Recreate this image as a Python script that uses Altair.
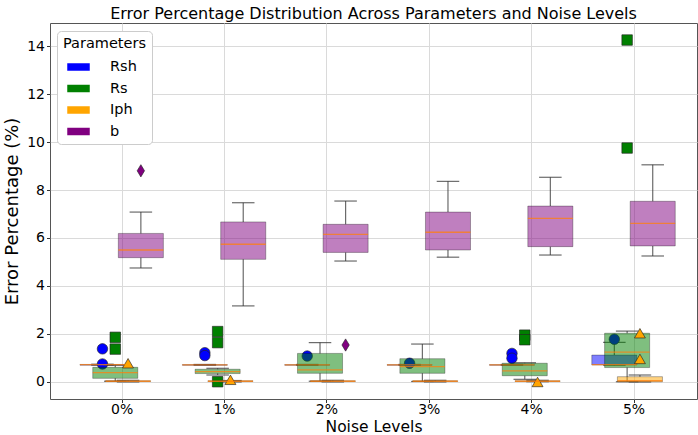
import json
import altair as alt
import pandas as pd

noise_levels = ["0%", "1%", "2%", "3%", "4%", "5%"]
params = ["Rsh", "Rs", "Iph", "b"]
param_colors = ["#0000ff", "#008000", "#ffa500", "#800080"]
param_shapes = ["circle", "square", "triangle-up", "M0,-1L0.6,0L0,1L-0.6,0Z"]
param_marker_sizes = [110, 110, 120, 150]

# box statistics per noise level: lower whisker, Q1, median, Q3, upper whisker (error %)
rsh_low = [0.70, 0.70, 0.70, 0.70, 0.70, 0.70]
rsh_q1 = [0.70, 0.70, 0.70, 0.70, 0.70, 0.71]
rsh_med = [0.72, 0.71, 0.71, 0.71, 0.71, 0.72]
rsh_q3 = [0.73, 0.72, 0.72, 0.72, 0.72, 1.12]
rsh_high = [0.74, 0.73, 0.73, 0.73, 0.73, 1.65]

rs_low = [0.03, 0.29, 0.03, 0.02, 0.11, 0.01]
rs_q1 = [0.15, 0.35, 0.36, 0.36, 0.26, 0.60]
rs_med = [0.39, 0.43, 0.50, 0.64, 0.46, 1.24]
rs_q3 = [0.61, 0.53, 1.19, 0.97, 0.78, 2.03]
rs_high = [0.70, 0.57, 1.64, 1.58, 0.80, 2.12]

iph_low = [0.00, 0.00, 0.00, 0.00, 0.01, 0.00]
iph_q1 = [0.02, 0.02, 0.02, 0.02, 0.02, 0.01]
iph_med = [0.03, 0.03, 0.03, 0.03, 0.03, 0.05]
iph_q3 = [0.05, 0.05, 0.05, 0.05, 0.05, 0.22]
iph_high = [0.07, 0.06, 0.07, 0.07, 0.07, 0.29]

b_low = [4.75, 3.17, 5.04, 5.20, 5.29, 5.25]
b_q1 = [5.18, 5.11, 5.40, 5.50, 5.64, 5.67]
b_med = [5.50, 5.74, 6.15, 6.24, 6.82, 6.61]
b_q3 = [6.19, 6.67, 6.57, 7.08, 7.33, 7.53]
b_high = [7.08, 7.47, 7.54, 8.36, 8.53, 9.05]

# outliers: noise level index and value
rsh_out_level = [0, 0, 1, 1, 2, 3, 4, 4, 5]
rsh_out_value = [1.38, 0.75, 1.22, 1.10, 1.08, 0.78, 1.19, 0.99, 1.78]
rs_out_level = [0, 0, 1, 1, 1, 4, 4, 5, 5]
rs_out_value = [1.86, 1.37, 2.10, 1.64, 0.01, 1.95, 1.76, 14.25, 9.75]
iph_out_level = [0, 1, 4, 5, 5]
iph_out_value = [0.78, 0.09, 0.00, 2.03, 0.96]
b_out_level = [0, 2]
b_out_value = [8.80, 1.54]

stats = {
    "Rsh": (rsh_low, rsh_q1, rsh_med, rsh_q3, rsh_high, rsh_out_level, rsh_out_value),
    "Rs": (rs_low, rs_q1, rs_med, rs_q3, rs_high, rs_out_level, rs_out_value),
    "Iph": (iph_low, iph_q1, iph_med, iph_q3, iph_high, iph_out_level, iph_out_value),
    "b": (b_low, b_q1, b_med, b_q3, b_high, b_out_level, b_out_value),
}

# grouped layout: each parameter is shifted around the noise-level position
group_offsets = [-0.1875, -0.0625, 0.0625, 0.1875]
box_width = 0.44
cap_width = box_width / 2

font = "DejaVu Sans"
x_scale = alt.Scale(domain=[-0.70, 5.62], nice=False, zero=False)
y_scale = alt.Scale(domain=[-0.71, 14.96], nice=False, zero=False)
x_axis = alt.Axis(
    title="Noise Levels",
    values=list(range(len(noise_levels))),
    labelExpr=json.dumps(noise_levels) + "[round(datum.value)]",
)
y_axis = alt.Axis(title="Error Percentage (%)", values=list(range(0, 15, 2)))
color_scale = alt.Scale(domain=params, range=param_colors)


def X(field):
    return alt.X(field, type="quantitative", scale=x_scale, axis=x_axis)


def Y(field):
    return alt.Y(field, type="quantitative", scale=y_scale, axis=y_axis)


box_layers = []
median_layers = []
for j, name in enumerate(params):
    low, q1, med, q3, high, out_lvl, out_val = stats[name]
    pos = [i + group_offsets[j] for i in range(len(noise_levels))]
    df = pd.DataFrame({
        "param": name,
        "pos": pos,
        "x_lo": [p - box_width / 2 for p in pos],
        "x_hi": [p + box_width / 2 for p in pos],
        "c_lo": [p - cap_width / 2 for p in pos],
        "c_hi": [p + cap_width / 2 for p in pos],
        "low": low, "q1": q1, "med": med, "q3": q3, "high": high,
    })
    base = alt.Chart(df)
    whisker_style = dict(color="#3a3a3a", opacity=0.75, strokeWidth=1.2)
    lower_whisker = base.mark_rule(**whisker_style).encode(x=X("pos"), y=Y("low"), y2="q1")
    upper_whisker = base.mark_rule(**whisker_style).encode(x=X("pos"), y=Y("q3"), y2="high")
    lower_cap = base.mark_rule(**whisker_style).encode(x=X("c_lo"), x2="c_hi", y=Y("low"))
    upper_cap = base.mark_rule(**whisker_style).encode(x=X("c_lo"), x2="c_hi", y=Y("high"))
    box = base.mark_rect(
        fillOpacity=0.5, stroke="#000000", strokeOpacity=0.3, strokeWidth=1
    ).encode(
        x=X("x_lo"), x2="x_hi", y=Y("q1"), y2="q3",
        fill=alt.Fill(
            "param:N", scale=color_scale, sort=params,
            legend=alt.Legend(title="Parameters"),
        ),
    )
    out_df = pd.DataFrame({
        "param": name,
        "pos": [lvl + group_offsets[j] for lvl in out_lvl],
        "value": out_val,
    })
    fliers = alt.Chart(out_df).mark_point(
        shape=param_shapes[j], filled=True, fill=param_colors[j], fillOpacity=1,
        stroke="#222222", strokeWidth=0.8, strokeOpacity=0.8, size=param_marker_sizes[j],
    ).encode(x=X("pos"), y=Y("value"))
    box_layers += [lower_whisker, upper_whisker, lower_cap, upper_cap, box, fliers]
    median_layers.append(
        base.mark_rule(color="#ff7f0e", opacity=0.75, strokeWidth=1.3).encode(
            x=X("x_lo"), x2="x_hi", y=Y("med")
        )
    )

chart = alt.layer(*box_layers, *median_layers).properties(
    width=647,
    height=376,
    autosize=alt.AutoSizeParams(type="none"),
    padding={"left": 50, "top": 23, "right": 1, "bottom": 36},
    title=alt.TitleParams(
        text="Error Percentage Distribution Across Parameters and Noise Levels",
        font=font, fontSize=16, fontWeight="normal", color="#000000",
        anchor="middle", offset=1,
    ),
).configure_view(
    stroke="#555555", strokeWidth=1
).configure_axis(
    labelFont=font, titleFont=font, labelFontSize=14, titleFontSize=16,
    titleFontWeight="normal", labelColor="#000000", titleColor="#000000",
    grid=True, gridColor="#dadada", gridWidth=1,
    domain=False, tickColor="#333333", tickSize=3.5, tickWidth=1,
).configure_axisX(
    labelPadding=0, titlePadding=2, labelAngle=0, labelFontSize=14,
    titleFontSize=15.5, titleBaseline="bottom", titleY=35,
).configure_axisY(
    labelPadding=2, titlePadding=5, titleFontSize=18,
).configure_legend(
    orient="none", legendX=7, legendY=8,
    fillColor="#ffffff", strokeColor="#cccccc", cornerRadius=4, padding=6,
    titleFont=font, titleFontSize=14.5, titleFontWeight="normal", titleColor="#000000",
    labelFont=font, labelFontSize=14.5, labelColor="#000000",
    symbolType="M-1.5,-0.5H1.5V0.5H-1.5Z", symbolSize=225, symbolOpacity=1,
    symbolStrokeWidth=0, symbolOffset=8, labelOffset=24, rowPadding=6.5, titlePadding=8,
)

chart.save("out.html", embed_options={"renderer": "svg", "actions": False})
